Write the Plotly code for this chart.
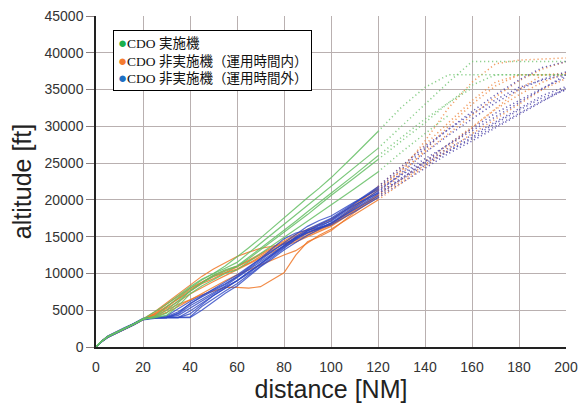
import plotly.graph_objects as go

# Distance grids [NM]
DIST_SOLID = [0, 2, 5, 8, 12, 16, 20, 25, 30, 35, 40, 45, 50, 55, 60, 65, 70, 75, 80, 85, 90, 95, 100, 110, 120]
DIST_DOTTED = [120, 130, 140, 150, 160, 170, 180, 190, 200]

# CDO 実施機 (green) altitudes [ft]
GREEN_SOLID = [
    [0, 700, 1400, 1900, 2500, 3100, 3800, 4800, 5800, 7000, 8200, 9200, 10000, 11000, 12200, 13500, 14800, 16200, 17500, 18900, 20300, 21600, 23000, 26100, 29300],
    [0, 650, 1350, 1850, 2450, 3050, 3750, 4200, 5500, 6800, 8000, 9100, 10000, 10700, 11500, 12800, 14100, 15400, 16600, 17900, 19200, 20500, 21800, 24400, 27000],
    [0, 700, 1400, 1900, 2500, 3100, 3800, 4000, 4600, 6000, 7600, 8700, 9800, 10500, 11000, 12200, 13400, 14600, 15800, 17100, 18400, 19600, 20900, 23400, 26000],
    [0, 700, 1450, 1950, 2550, 3150, 3850, 4000, 4300, 5600, 7200, 8300, 9200, 10000, 10500, 11600, 12600, 13700, 14800, 15900, 17000, 18200, 19300, 21500, 23800],
    [0, 650, 1350, 1850, 2450, 3050, 3750, 4100, 5000, 6300, 7600, 8700, 9600, 10300, 10900, 12000, 13200, 14400, 15500, 16800, 18000, 19300, 20600, 23000, 25500],
]
GREEN_DOTTED = [
    [29300, 32600, 35300, 37000, 37000, 37000, 37000, 37000, 37000],
    [27000, 30000, 33000, 36000, 38800, 38800, 38800, 38800, 38800],
    [26000, 28500, 31000, 33200, 35200, None, None, None, None],
    [23800, 26500, 29000, 31500, None, None, None, None, None],
    [25500, 28000, 30500, 33200, 35600, 37000, 37000, 37000, 37000],
]

# CDO 非実施機（運用時間内） (orange)
ORANGE_SOLID = [
    [0, 700, 1400, 1900, 2500, 3100, 3800, 4800, 6000, 7300, 8500, 9600, 10600, 11500, 12300, 12900, 13400, 13700, 14000, 14500, 15200, 15900, 16600, 18600, 20700],
    [0, 650, 1350, 1850, 2450, 3050, 3750, 4200, 5000, 5800, 6400, 7100, 7600, 8100, 8100, 8000, 8200, 9200, 10100, 12500, 14300, 15000, 15800, 18300, 20600],
    [0, 700, 1400, 1950, 2550, 3150, 3850, 4500, 5500, 6500, 7600, 8600, 9300, 10100, 10800, 11600, 12500, 13400, 14300, 15100, 15800, 16200, 16600, 18900, 21300],
    [0, 650, 1350, 1850, 2400, 3000, 3700, 4300, 5200, 6200, 7200, 8100, 8900, 9700, 10500, 11300, 12200, 13000, 13700, 14300, 15000, 15700, 16400, 18500, 20300],
    [0, 700, 1450, 1950, 2500, 3100, 3800, 4400, 5400, 6600, 7800, 8800, 9600, 10100, 10600, 11400, 12300, 13200, 14100, 14800, 15400, 16000, 16700, 19100, 21800],
    [0, 700, 1400, 1900, 2500, 3100, 3800, 4100, 4700, 5500, 6400, 7300, 8200, 9000, 9800, 10500, 11200, 11900, 12500, 13100, 14200, 15200, 16000, 18000, 20000],
    [0, 650, 1300, 1800, 2400, 3000, 3700, 4600, 5800, 6900, 8000, 8800, 9700, 10400, 11000, 11800, 12700, 13600, 14500, 15300, 16000, 16700, 17300, 19400, 21500],
]
ORANGE_DOTTED = [
    [20700, 23500, 26800, 30000, 33000, 35500, 37000, 37000, 37000],
    [20600, 22800, 25200, 27600, 30000, 32300, 34300, 36000, 37300],
    [21300, 24000, 28000, 32500, 36000, 38500, 39000, 39200, 39300],
    [20300, 22500, 24800, 27200, 29800, 32500, 35000, 37000, 37200],
    [21800, 24500, 27500, 30500, 33500, 36000, 37000, 37000, 37000],
    [20000, 22300, 24600, 26800, 29000, 31000, 33000, 35000, 36500],
    [21500, 24000, 26500, 29000, 31500, 34000, 36200, 37800, 38800],
]

# CDO 非実施機（運用時間外） (blue)
BLUE_SOLID = [
    [0, 700, 1400, 1900, 2500, 3100, 3800, 4000, 4000, 4000, 4100, 5500, 6600, 7600, 8600, 9800, 11000, 12300, 13500, 14600, 15500, 16200, 16800, 18800, 20800],
    [0, 600, 1300, 1800, 2400, 3000, 3700, 4000, 4000, 4000, 4900, 6000, 7000, 8000, 9000, 10200, 11400, 12600, 13700, 14800, 15800, 16500, 17100, 19200, 21200],
    [0, 650, 1350, 1850, 2500, 3100, 3800, 4000, 4000, 4500, 5600, 6500, 7400, 8300, 9400, 10500, 11700, 12800, 13900, 14900, 15600, 16100, 16600, 18400, 20300],
    [0, 700, 1500, 2000, 2600, 3200, 3900, 4000, 4000, 4000, 4000, 5000, 6200, 7300, 8300, 9600, 10900, 12000, 13200, 14200, 15200, 16000, 16900, 19000, 21000],
    [0, 700, 1400, 1900, 2500, 3100, 3800, 4000, 4200, 5200, 6200, 7000, 7800, 8600, 9600, 10800, 12000, 13400, 14700, 15500, 15900, 16300, 17200, 19500, 21600],
    [0, 600, 1300, 1800, 2400, 3000, 3700, 3900, 4000, 4600, 5900, 6800, 7600, 8500, 9500, 10600, 11800, 13000, 14200, 15300, 16400, 17200, 17800, 19700, 21400],
    [0, 650, 1400, 1900, 2500, 3200, 3800, 4000, 4100, 4800, 5900, 6900, 7900, 8800, 9800, 10900, 12000, 13100, 14000, 14800, 15600, 16200, 16800, 18700, 20500],
    [0, 700, 1450, 1950, 2550, 3150, 3850, 4000, 4000, 4300, 5300, 6300, 7300, 8200, 9000, 10000, 11300, 12500, 13800, 15000, 16000, 16800, 17500, 19600, 21800],
    [0, 700, 1400, 1900, 2500, 3100, 3800, 4000, 4000, 4000, 4500, 5800, 7000, 8000, 9000, 10200, 11200, 12400, 13500, 14600, 15800, 16600, 17400, 19300, 20900],
]
BLUE_DOTTED = [
    [20800, 23000, 25000, 26600, 28300, 30000, 31800, 33500, 35000],
    [21200, 23500, 25600, 27500, 29400, 31400, 33300, 35200, 37000],
    [20300, 22300, 24400, 26300, 28000, 29800, 31700, 33500, 35200],
    [21000, 23700, 26400, 28800, 31000, 33200, 35000, 36400, 37400],
    [21600, 24200, 27000, 29600, 32000, 34300, 36300, 38000, 38800],
    [21400, 23400, 25200, 27000, 28800, 30600, 32500, 34200, 35400],
    [20500, 22800, 25200, 27600, 29700, 31800, 33500, 35200, 36700],
    [21800, 24600, 27300, 29600, 31700, 33600, 35300, 36300, 37000],
    [20900, 22800, 24700, 26700, 28500, 30400, 32200, 33900, 35000],
]

LEGEND_NAMES = ["CDO 実施機", "CDO 非実施機（運用時間内）", "CDO 非実施機（運用時間外）"]
LEGEND_COLORS = ["#1aaf4c", "#f47b30", "#1e6fc3"]
X_TICKS = list(range(0, 201, 20))
Y_TICKS = list(range(0, 45001, 5000))
Y_TICKTEXT = [str(v) for v in Y_TICKS]

fig = go.Figure()

groups = [
    (ORANGE_SOLID, ORANGE_DOTTED, "rgba(240,120,40,0.85)", "rgba(240,140,70,0.85)"),
    (BLUE_SOLID, BLUE_DOTTED, "rgba(45,70,195,0.8)", "rgba(80,70,170,0.85)"),
    (GREEN_SOLID, GREEN_DOTTED, "rgba(100,190,100,0.85)", "rgba(110,195,110,0.8)"),
]
for solid, dotted, c_solid, c_dot in groups:
    for s, d in zip(solid, dotted):
        fig.add_trace(go.Scatter(x=DIST_SOLID, y=s, mode="lines", showlegend=False,
                                 line=dict(color=c_solid, width=1.2), hoverinfo="skip"))
        fig.add_trace(go.Scatter(x=DIST_DOTTED, y=d, mode="lines", showlegend=False,
                                 line=dict(color=c_dot, width=1.5, dash="1.2px,2.8px"), hoverinfo="skip"))

legend_text = "<br>".join(
    f"<span style='color:{c};font-size:15px'>●</span>{n}" for n, c in zip(LEGEND_NAMES, LEGEND_COLORS)
)
fig.add_annotation(
    xref="paper", yref="paper", x=0.036, y=0.958, xanchor="left", yanchor="top",
    text=legend_text, showarrow=False, align="left",
    font=dict(family="Liberation Serif, Noto Sans CJK JP, serif", size=13.5, color="#111"),
    bgcolor="white", bordercolor="black", borderwidth=1, borderpad=4,
)

axis_font = dict(family="Liberation Sans, Arial, sans-serif", size=14, color="#333")
title_font = dict(family="Liberation Sans, Arial, sans-serif", size=25, color="#222")
fig.update_layout(
    width=580, height=406,
    margin=dict(l=96, r=14, t=16, b=59),
    paper_bgcolor="white", plot_bgcolor="white",
    showlegend=False,
    xaxis=dict(range=[0, 200], tickvals=X_TICKS, showgrid=True, gridcolor="#b9b0b0", gridwidth=1.3,
               showline=True, linecolor="#222", linewidth=1.5, zeroline=False, automargin=False,
               ticks="outside", ticklen=6, tickcolor="rgba(0,0,0,0)", tickfont=axis_font,
               ticklabeloverflow="allow",
               title=dict(text="distance [NM]", font=title_font, standoff=6)),
    yaxis=dict(range=[0, 45000], tickvals=Y_TICKS, ticktext=Y_TICKTEXT, showgrid=True,
               gridcolor="#b9b0b0", gridwidth=1.3,
               showline=True, linecolor="#222", linewidth=1.5, zeroline=False, automargin=False,
               ticks="outside", ticklen=8, tickcolor="#8a7f7f", tickfont=axis_font,
               ticklabeloverflow="allow",
               title=dict(text="altitude [ft]", font=title_font, standoff=6)),
)

fig.write_html("out.html", config={"displayModeBar": False},
               post_script="document.body.style.margin='0px';")
